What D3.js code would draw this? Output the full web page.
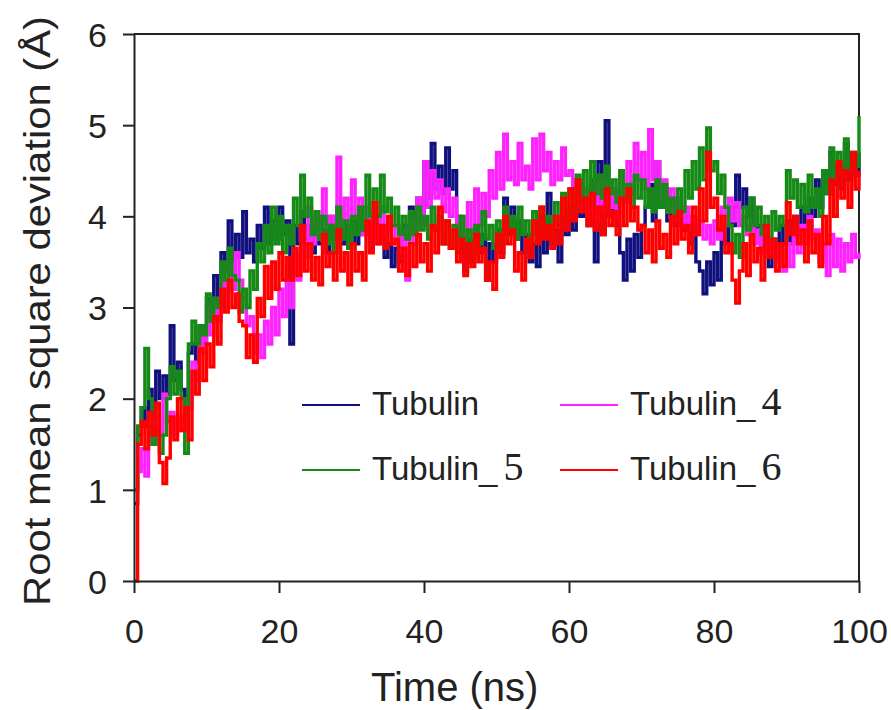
<!DOCTYPE html>
<html><head><meta charset="utf-8">
<script src="https://cdn.jsdelivr.net/npm/d3@7"></script>
<style>html,body{margin:0;padding:0;background:#fff}svg{display:block}</style>
</head><body>
<svg id="chart" width="891" height="710"></svg>
<script>
// sampling interval of the RMSD traces (ns)
const timeStep = 0.5;
const xTicks = [0, 20, 40, 60, 80, 100];
const yTicks = [0, 1, 2, 3, 4, 5, 6];
const seriesNames = ["Tubulin", "Tubulin_4", "Tubulin_5", "Tubulin_6"];
const seriesColors = ["#10107e", "#ff22ff", "#158a15", "#ff0000"];

const tubulin = [
0.85,1.6,1.9,1.7,2.1,1.8,2.3,2.0,2.25,2.05,2.8,2.2,2.4,2.1,2.0,2.5,2.6,2.4,2.8,2.6,
3.1,2.9,3.35,3.0,3.6,3.4,3.95,3.5,3.8,3.55,4.05,3.6,3.75,3.5,3.9,3.65,4.1,3.7,3.95,3.75,
4.1,3.8,3.95,2.6,3.9,3.7,4.05,3.75,3.9,3.6,4.0,3.7,3.85,3.6,4.0,3.75,4.1,3.7,3.9,3.65,
3.95,3.7,4.1,3.8,3.9,3.65,4.0,3.75,3.85,3.55,3.7,3.45,3.65,3.5,3.9,3.75,4.1,3.8,4.2,3.9,
4.6,4.2,4.8,4.3,4.55,4.25,4.75,4.3,4.5,4.0,3.7,3.4,3.75,3.5,3.9,3.6,3.8,3.3,3.7,3.5,
3.85,3.6,4.2,3.8,4.1,3.75,3.95,3.6,3.8,3.5,3.7,3.45,4.0,3.6,4.25,3.7,3.85,3.5,4.0,3.8,
4.1,3.85,4.3,4.0,4.2,3.9,4.4,3.5,4.6,3.8,5.05,4.0,4.3,3.9,3.6,3.3,3.75,3.4,3.8,3.55,
3.9,4.1,4.35,3.95,4.6,4.1,4.3,3.95,4.2,3.9,4.15,3.85,4.0,3.7,3.9,3.5,3.4,3.15,3.5,3.25,
3.6,3.3,3.9,3.7,4.1,3.9,4.45,4.1,4.3,4.0,4.2,3.85,3.9,3.6,3.8,3.45,3.75,3.55,3.9,3.7,
3.95,3.7,4.0,3.8,4.1,3.85,4.2,4.0,4.4,4.1,4.5,4.25,4.7,4.35,4.55,4.3,4.8,4.4,4.6,4.45,
4.7];

const tubulin4 = [
1.0,1.2,1.45,1.15,1.7,1.5,1.8,1.6,2.05,1.75,1.85,1.6,1.8,1.65,2.0,1.9,2.4,2.2,2.75,2.5,
3.0,2.7,3.1,2.85,3.3,3.0,3.5,3.2,3.6,3.3,3.1,2.8,2.9,2.5,2.7,2.45,2.85,2.6,3.0,2.7,
3.2,2.9,3.3,3.0,3.6,3.3,3.8,3.55,4.1,3.7,4.0,3.75,4.3,3.9,4.0,3.8,4.65,3.9,4.2,3.95,
4.4,4.0,4.2,3.8,4.1,3.75,3.95,3.7,4.1,3.8,4.0,3.7,3.9,3.6,3.85,3.3,3.95,3.7,4.2,3.9,
4.6,4.1,4.5,4.2,4.4,4.05,4.3,4.0,4.2,3.9,4.0,3.75,4.15,3.8,4.3,3.9,4.25,4.0,4.5,4.2,
4.7,4.3,4.9,4.4,4.6,4.35,4.8,4.4,4.55,4.3,4.85,4.4,4.9,4.5,4.7,4.35,4.6,4.4,4.75,4.45,
4.5,4.2,4.4,4.1,4.3,4.0,4.2,3.95,4.35,4.05,4.4,4.1,4.3,4.0,4.45,4.15,4.6,4.25,4.8,4.4,
4.7,4.3,4.95,4.4,4.6,4.2,4.4,4.05,4.3,3.95,4.2,3.9,4.1,3.85,4.0,3.8,3.95,3.75,3.9,3.7,
3.95,3.75,4.1,3.9,4.2,3.95,4.15,3.9,4.0,3.8,3.9,3.7,3.85,3.6,3.8,3.55,3.7,3.5,3.65,3.4,
3.7,3.45,3.8,3.6,3.9,3.7,4.0,3.75,3.85,3.5,3.7,3.35,3.8,3.45,3.75,3.4,3.7,3.5,3.8,3.55,
3.6];

const tubulin5 = [
1.0,1.7,1.9,2.55,2.0,1.5,1.65,1.4,1.6,2.0,2.35,2.05,2.3,2.0,1.4,2.6,2.85,2.6,2.8,2.7,
3.15,2.85,3.1,3.0,3.5,3.3,3.65,3.35,3.3,2.95,3.2,3.0,3.4,3.2,3.7,3.5,3.9,3.6,4.1,3.7,
4.0,3.6,3.9,3.7,4.2,3.9,4.45,4.0,4.2,3.8,4.05,3.75,4.0,3.7,3.9,3.6,4.1,3.75,3.95,3.65,
4.0,3.8,4.1,3.85,4.45,4.0,4.3,4.0,4.45,4.05,4.2,3.9,4.1,3.8,4.0,3.75,4.05,3.8,4.1,3.85,
4.0,3.75,4.1,3.85,4.0,3.7,3.95,3.65,3.9,3.6,4.0,3.7,3.85,3.55,3.9,3.7,4.05,3.75,3.9,3.65,
3.95,3.7,4.1,3.85,4.0,3.75,4.1,3.8,3.95,3.7,4.05,3.8,4.1,3.85,4.0,3.8,4.15,3.9,4.25,4.0,
4.3,4.05,4.45,4.15,4.5,4.2,4.6,4.25,4.45,4.2,4.55,4.25,4.4,4.15,4.5,4.2,4.35,4.1,4.45,4.2,
4.4,4.1,4.3,4.05,4.4,4.1,4.35,4.05,4.2,4.0,4.3,4.05,4.5,4.2,4.6,4.3,4.75,4.4,4.97,4.5,
4.6,4.25,4.45,4.1,3.9,3.6,3.8,3.55,4.1,3.85,4.2,3.9,4.1,3.8,4.0,3.75,4.05,3.85,4.0,3.9,
4.5,4.2,4.4,4.1,4.35,4.05,4.45,4.1,4.3,4.0,4.5,4.25,4.75,4.4,4.7,4.45,4.85,4.5,4.7,4.55,
5.1];

const tubulin6 = [
0.0,1.5,1.75,1.45,1.85,1.6,1.95,1.3,1.07,1.35,1.8,1.55,2.0,1.65,1.9,1.55,2.3,2.05,2.55,2.2,
2.6,2.35,2.9,2.6,3.2,2.95,3.3,3.0,3.15,2.85,2.8,2.45,2.7,2.4,3.1,2.9,3.45,3.1,3.5,3.2,
3.6,3.3,3.55,3.3,3.65,3.35,3.9,3.4,3.7,3.3,3.55,3.25,3.8,3.45,3.6,3.3,3.85,3.4,3.6,3.25,
3.7,3.4,3.6,3.3,3.95,3.6,4.15,3.7,3.9,3.65,4.0,3.7,3.75,3.4,3.65,3.35,3.7,3.45,3.8,3.5,
3.7,3.4,3.9,3.6,4.1,3.7,3.95,3.65,3.85,3.5,3.75,3.35,3.7,3.45,3.8,3.5,3.65,3.3,3.5,3.2,
3.8,3.55,4.0,3.7,3.85,3.4,3.6,3.3,3.75,3.55,3.95,3.7,4.1,3.75,3.9,3.65,4.0,3.7,4.2,3.85,
4.3,3.95,4.4,4.05,4.2,3.9,4.25,3.85,4.1,3.8,4.3,3.9,4.05,3.8,4.2,3.9,4.3,3.95,4.1,3.85,
3.9,3.6,3.85,3.5,3.95,3.65,3.8,3.55,4.0,3.7,4.05,3.75,3.9,3.6,4.1,3.8,4.3,3.95,4.7,4.1,
4.2,3.85,4.0,3.6,3.7,3.3,3.05,3.4,3.7,3.35,3.8,3.5,3.65,3.3,3.9,3.55,3.75,3.4,3.7,3.45,
4.15,3.8,4.0,3.7,3.85,3.5,3.95,3.6,3.8,3.45,4.0,3.7,4.4,4.0,4.6,4.2,4.5,4.1,4.7,4.3,
4.5];

const seriesValues = [tubulin, tubulin4, tubulin5, tubulin6];

const svg = d3.select("#chart");
const x = d3.scaleLinear().domain([0, 100]).range([134, 859]);
const y = d3.scaleLinear().domain([0, 6]).range([581, 34]);

// plot frame (top & right)
svg.append("path")
  .attr("d", `M${x(0)},${y(6)}H${x(100)}V${y(0)}`)
  .attr("fill", "none").attr("stroke", "#222").attr("stroke-width", 2);

// lines
const line = d3.line().x((d, i) => x(i * timeStep)).y(d => y(d)).curve(d3.curveStepAfter);
seriesValues.forEach((vals, k) => {
  svg.append("path").datum(vals)
    .attr("d", line)
    .attr("fill", "none")
    .attr("stroke", seriesColors[k])
    .attr("stroke-width", 3.4)
    .attr("stroke-linejoin", "miter");
});

// axes
const font = "Liberation Sans, Arial, sans-serif";
const xAxis = svg.append("g").attr("transform", `translate(0,${y(0)})`)
  .call(d3.axisBottom(x).tickValues(xTicks).tickFormat(d3.format("d")).tickSize(12).tickSizeOuter(0).tickPadding(10));
const yAxis = svg.append("g").attr("transform", `translate(${x(0)},0)`)
  .call(d3.axisLeft(y).tickValues(yTicks).tickFormat(d3.format("d")).tickSize(11).tickSizeOuter(0).tickPadding(16));
[xAxis, yAxis].forEach(g => {
  g.select(".domain").attr("stroke", "#222").attr("stroke-width", 2);
  g.selectAll(".tick line").attr("stroke", "#222").attr("stroke-width", 2);
  g.selectAll(".tick text").attr("font-family", font).attr("font-size", 34).attr("fill", "#222");
});
xAxis.selectAll(".tick text").attr("dy", null).attr("y", 62);
yAxis.selectAll(".tick text").attr("dy", "0.36em");

// axis titles
svg.append("text").attr("x", 371).attr("y", 701)
  .attr("font-family", font).attr("font-size", 40).attr("fill", "#222")
  .text("Time (ns)");
svg.append("text")
  .attr("transform", "translate(50,311) rotate(-90)")
  .attr("text-anchor", "middle")
  .attr("font-family", font).attr("font-size", 37).attr("fill", "#222")
  .attr("textLength", 590).attr("lengthAdjust", "spacingAndGlyphs")
  .text("Root mean square deviation (Å)");

// legend
const legendCols = [302, 560];
const legendRows = [405, 470];
const legendSuffix = ["", "4", "5", "6"];
seriesNames.forEach((name, k) => {
  const cx = legendCols[k % 2], cy = legendRows[Math.floor(k / 2)];
  svg.append("line").attr("x1", cx).attr("x2", cx + 58).attr("y1", cy).attr("y2", cy)
    .attr("stroke", seriesColors[k]).attr("stroke-width", 2);
  const t = svg.append("text").attr("x", cx + 70).attr("y", cy + 10)
    .attr("font-family", font).attr("font-size", 33).attr("fill", "#222");
  if (legendSuffix[k] === "") {
    t.text(name);
  } else {
    t.append("tspan").text("Tubulin_");
    t.append("tspan").attr("dx", 6).attr("font-family", "Liberation Serif, Times New Roman, serif")
      .attr("font-size", 40).text(legendSuffix[k]);
  }
});
</script>
</body></html>
